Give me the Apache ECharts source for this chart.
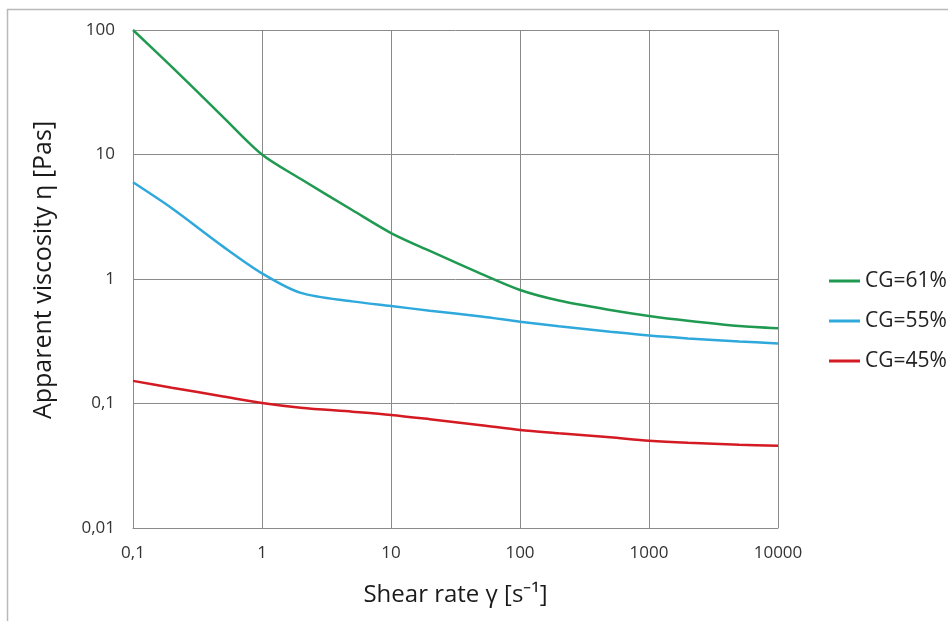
<!DOCTYPE html>
<html>
<head>
<meta charset="utf-8">
<script src="https://cdn.jsdelivr.net/npm/echarts@6/dist/echarts.min.js"></script>
<style>html,body{margin:0;padding:0;background:#fff}#c{width:948px;height:621px}</style>
</head>
<body>
<div id="c"></div>
<script>
const shearRate = [0.1, 0.2, 0.5, 1, 2, 5, 10, 20, 50, 100, 200, 500, 1000, 2000, 5000, 10000];
const cg61 = [100, 50.5, 20.0, 10, 6.35, 3.58, 2.34, 1.68, 1.10, 0.816, 0.672, 0.564, 0.505, 0.462, 0.419, 0.402];
const cg55 = [5.98, 3.70, 1.82, 1.11, 0.773, 0.661, 0.607, 0.556, 0.50, 0.454, 0.417, 0.377, 0.351, 0.333, 0.315, 0.304];
const cg45 = [0.152, 0.134, 0.114, 0.101, 0.0925, 0.0859, 0.0809, 0.0748, 0.0670, 0.0613, 0.0577, 0.0535, 0.0502, 0.0483, 0.0467, 0.0458];
const seriesNames = ['CG=61%', 'CG=55%', 'CG=45%'];
const xTickLabels = ['0,1', '1', '10', '100', '1000', '10000'];
const yTickLabels = ['0,01', '0,1', '1', '10', '100'];

const FONT = 'Open Sans';
const colors = ['#1f9a50', '#2fa9dc', '#d41a22'];
const values = [cg61, cg55, cg45];

const chart = echarts.init(document.getElementById('c'), null, {renderer: 'canvas'});
chart.setOption({
  animation: false,
  backgroundColor: '#fff',
  graphic: [{
    type: 'rect', silent: true, z: -1,
    shape: {x: 7.5, y: 9.5, width: 1000, height: 1000},
    style: {fill: 'none', stroke: '#b9b9b9', lineWidth: 1.5}
  }],
  grid: {left: 133, top: 30, right: 170, bottom: 93, containLabel: false},
  legend: {
    orient: 'vertical', left: 829, top: 269, padding: 0,
    itemWidth: 31, itemHeight: 3, itemGap: 16, icon: 'rect',
    textStyle: {fontFamily: FONT, fontSize: 21, color: '#222', lineHeight: 24},
    data: seriesNames
  },
  xAxis: {
    type: 'log', logBase: 10, min: 0.1, max: 10000,
    name: 'Shear rate γ [s⁻¹]', nameLocation: 'middle', nameGap: 55,
    nameTextStyle: {fontFamily: FONT, fontSize: 24, color: '#1a1a1a'},
    axisLine: {show: true, lineStyle: {color: '#8a8a8a', width: 1}},
    axisTick: {show: false},
    axisLabel: {
      fontFamily: FONT, fontSize: 17, color: '#333', margin: 17,
      formatter: v => xTickLabels[Math.round(Math.log10(v)) + 1]
    },
    splitLine: {show: true, lineStyle: {color: '#8a8a8a', width: 1}},
    minorTick: {show: false}
  },
  yAxis: {
    type: 'log', logBase: 10, min: 0.01, max: 100,
    name: 'Apparent viscosity η [Pas]', nameLocation: 'middle', nameGap: 77, nameRotate: 90,
    nameTextStyle: {fontFamily: FONT, fontSize: 25, color: '#1a1a1a', padding: [0, 0, 0, 18]},
    axisLine: {show: true, lineStyle: {color: '#8a8a8a', width: 1}},
    axisTick: {show: false},
    axisLabel: {
      fontFamily: FONT, fontSize: 17, color: '#333', margin: 18,
      formatter: v => yTickLabels[Math.round(Math.log10(v)) + 2]
    },
    splitLine: {show: true, lineStyle: {color: '#8a8a8a', width: 1}}
  },
  series: seriesNames.map((n, i) => ({
    name: n, type: 'line', smooth: 0.3, symbol: 'none',
    lineStyle: {color: colors[i], width: 2.5},
    itemStyle: {color: colors[i]},
    data: shearRate.map((x, j) => [x, values[i][j]])
  }))
});
</script>
</body>
</html>
